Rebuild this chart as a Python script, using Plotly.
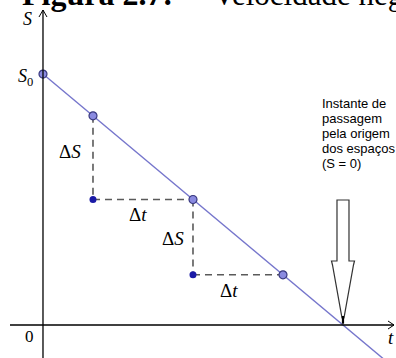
import plotly.graph_objects as go

# Uniform motion with negative velocity: S(t) = S0 + v t
S0 = 10.0
v = -1.0
t_marks = [0.0, 5 / 3, 5.0, 8.0]          # instants marked on the line
S_marks = [S0 + v * t for t in t_marks]   # positions at those instants
t_cross = -S0 / v                         # passage through S = 0

# Axis windows (t horizontally, S vertically)
T_RANGE = [-1.433, 11.767]
S_RANGE = [-1.315, 12.95]
W, H = 396, 358
KX = W / (T_RANGE[1] - T_RANGE[0])        # px per unit of t
KY = H / (S_RANGE[1] - S_RANGE[0])        # px per unit of S


def pt(px, py):
    """Pixel position -> data coordinates."""
    return T_RANGE[0] + px / KX, S_RANGE[1] - py / KY


fig = go.Figure()

# the S(t) line, running past the bottom edge
t_line = [0.0, 13.0]
fig.add_trace(go.Scatter(x=t_line, y=[S0 + v * t for t in t_line], mode="lines",
                         line=dict(color="#7676cc", width=1.4), hoverinfo="skip"))

shapes = []
dash = dict(color="#5a5a5a", width=1.6, dash="7px,5px")
corner_t, corner_S = [], []
for i in (1, 2):
    t_a, S_a = t_marks[i], S_marks[i]
    t_b, S_b = t_marks[i + 1], S_marks[i + 1]
    # ΔS (vertical) then Δt (horizontal)
    shapes.append(dict(type="line", x0=t_a, y0=S_a, x1=t_a, y1=S_b, line=dash, layer="below"))
    shapes.append(dict(type="line", x0=t_a, y0=S_b, x1=t_b, y1=S_b, line=dash, layer="below"))
    corner_t.append(t_a)
    corner_S.append(S_b)

fig.add_trace(go.Scatter(x=corner_t, y=corner_S, mode="markers",
                         marker=dict(size=7, color="#1a1aa6", line=dict(width=0)),
                         hoverinfo="skip"))
fig.add_trace(go.Scatter(x=t_marks, y=S_marks, mode="markers",
                         marker=dict(size=8, color="#8a8ae0", line=dict(color="#3a3a80", width=1.2)),
                         hoverinfo="skip"))

# coordinate axes with open arrowheads
ax_line = dict(color="black", width=1.3)
x_left, _ = pt(10, 0)
x_tip, _ = pt(394, 0)
_, y_tip = pt(0, 10)
shapes.append(dict(type="line", x0=x_left, y0=0, x1=x_tip, y1=0, line=ax_line))
shapes.append(dict(type="line", x0=0, y0=S_RANGE[0], x1=0, y1=y_tip, line=ax_line))
ah = 6 / KX, 4 / KY
shapes.append(dict(type="path", line=dict(color="black", width=1),
                   path=f"M {x_tip - ah[0]},{ah[1]} L {x_tip},0 L {x_tip - ah[0]},{-ah[1]}"))
av = 4 / KX, 7 / KY
shapes.append(dict(type="path", line=dict(color="black", width=1),
                   path=f"M {-av[0]},{y_tip - av[1]} L 0,{y_tip} L {av[0]},{y_tip - av[1]}"))

# hollow arrow pointing at the crossing instant
sx, wx = 6 / KX, 11.5 / KX
top, neck, tip = 4.98, 2.55, 0.28
arrow = (f"M {t_cross - sx},{top} L {t_cross + sx},{top} L {t_cross + sx},{neck} "
         f"L {t_cross + wx},{neck} L {t_cross + wx - 1 / KX},{neck - 4 / KY} "
         f"L {t_cross + 1 / KX},{tip} L {t_cross - 1 / KX},{tip} "
         f"L {t_cross - wx + 1 / KX},{neck - 4 / KY} L {t_cross - wx},{neck} "
         f"L {t_cross - sx},{neck} Z")
shapes.append(dict(type="path", path=arrow, fillcolor="white",
                   line=dict(color="#333333", width=1.2)))
shapes.append(dict(type="line", x0=t_cross, y0=tip + 2 / KY, x1=t_cross, y1=0.05,
                   line=dict(color="black", width=2.2)))

serif = "Liberation Serif"
annotations = []


def label(text, px, py, size=19, family=serif, **kw):
    x, y = pt(px, py)
    annotations.append(dict(x=x, y=y, text=text, showarrow=False,
                            font=dict(family=family, size=size, color="black"), **kw))


label("<i>S</i>", 27, 19, size=18)
label("<i>S</i><sub>0</sub>", 25, 77, size=18)
label("0", 29, 336, size=17)
label("<i>t</i>", 391, 337, size=19)
label("Δ<i>S</i>", 70, 151)
label("Δ<i>t</i>", 138, 214)
label("Δ<i>S</i>", 173, 238)
label("Δ<i>t</i>", 229, 290)

note = ["Instante de", "passagem", "pela origem", "dos espaços", "(S = 0)"]
for k, line in enumerate(note):
    label(line, 320, 103 + 15 * k, size=13, family="Liberation Sans", xanchor="left")

# heading, cut by the top edge
for text, px, size in (("<b>Figura 2.7:</b>", 20, 32), ("Velocidade negativa", 211, 31)):
    annotations.append(dict(x=px / W, y=1, xref="paper", yref="paper", xanchor="left",
                            yanchor="bottom", yshift=-14, showarrow=False, text=text,
                            font=dict(family=serif, size=size, color="black")))

fig.update_layout(
    width=W, height=H, margin=dict(l=0, r=0, t=0, b=0),
    paper_bgcolor="white", plot_bgcolor="white", showlegend=False,
    xaxis=dict(range=T_RANGE, visible=False, fixedrange=True),
    yaxis=dict(range=S_RANGE, visible=False, fixedrange=True),
    shapes=shapes, annotations=annotations,
)

fig.write_html("out.html", config={"displayModeBar": False})
